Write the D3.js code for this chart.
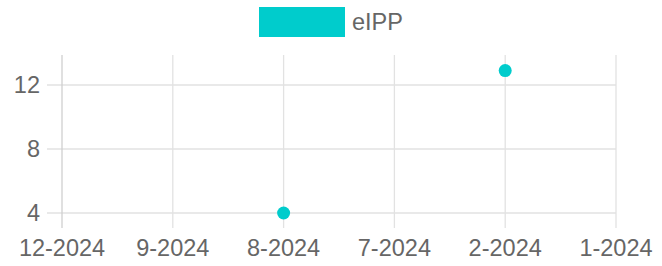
<!DOCTYPE html>
<html lang="en">
<head>
  <meta charset="UTF-8">
  <script src="https://d3js.org/d3.v7.min.js"></script>
  <title>eIPP</title>
  <style>
    body { margin: 0; background: #fff; }
    text { font-family: "Liberation Sans", Arial, sans-serif; fill: #666; }
  </style>
</head>
<body>
  <svg width="662" height="266"></svg>
  <script>
    const months = ["12-2024", "9-2024", "8-2024", "7-2024", "2-2024", "1-2024"];
    const eippValues = [null, null, 4, null, 12.9, null];
    const yTicks = [4, 8, 12];
    const seriesName = "eIPP";
    const color = "#00cccc";

    const svg = d3.select("svg");

    const xScale = d3.scalePoint().domain(months).range([62, 616]).padding(0);
    const yScale = d3.scaleLinear().domain([4, 13.875]).range([213, 55]);

    // grid
    const grid = svg.append("g");
    grid.selectAll(".hgrid").data(yTicks).enter().append("line")
      .attr("x1", 47).attr("x2", 616)
      .attr("y1", d => yScale(d)).attr("y2", d => yScale(d))
      .attr("stroke", "#e2e2e2").attr("stroke-width", 1.3);
    grid.selectAll(".vgrid").data(months).enter().append("line")
      .attr("x1", d => xScale(d)).attr("x2", d => xScale(d))
      .attr("y1", 55).attr("y2", 228)
      .attr("stroke", (d, i) => i == 0 ? "#d0d0d0" : "#e2e2e2").attr("stroke-width", 1.3);

    // y labels
    svg.selectAll(".ylab").data(yTicks).enter().append("text")
      .attr("x", 40).attr("y", d => yScale(d))
      .attr("dy", "0.36em")
      .attr("text-anchor", "end")
      .style("font-size", "23.5px")
      .text(d => d);

    // x labels
    svg.selectAll(".xlab").data(months).enter().append("text")
      .attr("x", d => xScale(d)).attr("y", 256)
      .attr("text-anchor", "middle")
      .style("font-size", "23.5px")
      .text(d => d);

    // points
    const pts = months.map((m, i) => ({ m: m, v: eippValues[i] })).filter(d => d.v != null);
    svg.selectAll(".pt").data(pts).enter().append("circle")
      .attr("cx", d => xScale(d.m)).attr("cy", d => yScale(d.v))
      .attr("r", 6.5)
      .attr("fill", color);

    // legend
    svg.append("rect")
      .attr("x", 259).attr("y", 7).attr("width", 86).attr("height", 30)
      .attr("fill", color);
    svg.append("text")
      .attr("x", 352).attr("y", 30)
      .style("font-size", "23.5px")
      .text(seriesName);
  </script>
</body>
</html>
